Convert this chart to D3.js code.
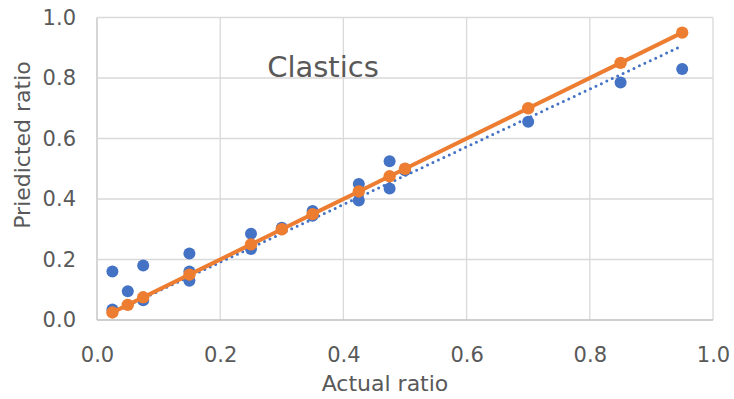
<!DOCTYPE html>
<html>
<head>
<meta charset="utf-8">
<script src="https://cdn.jsdelivr.net/npm/d3@7"></script>
<style>
    body { margin: 0; background: #fff; }
    svg text { font-family: "DejaVu Sans", Verdana, sans-serif; fill: #595959; }
</style>
</head>
<body>
<svg id="chart" width="734" height="399"></svg>
<script>
// actual vs predicted (blue markers)
const actualRatio = [0.025, 0.025, 0.05, 0.075, 0.075, 0.15, 0.15, 0.15, 0.25, 0.25, 0.3,
    0.35, 0.35, 0.425, 0.425, 0.475, 0.475, 0.5, 0.7, 0.85, 0.95];
const predictedRatio = [0.16, 0.035, 0.095, 0.18, 0.065, 0.22, 0.16, 0.13, 0.285, 0.235, 0.305,
    0.36, 0.345, 0.45, 0.395, 0.525, 0.435, 0.495, 0.655, 0.785, 0.83];

// 1:1 reference series (orange)
const lineRatio = [0.025, 0.05, 0.075, 0.15, 0.25, 0.3, 0.35, 0.425, 0.475, 0.5, 0.7, 0.85, 0.95];

const tickValues = [0, 0.2, 0.4, 0.6, 0.8, 1.0];
const chartTitle = "Clastics";
const xTitle = "Actual ratio";
const yTitle = "Priedicted ratio";

const svg = d3.select("#chart");

// plot area
const plotLeft = 97, plotRight = 713, plotTop = 17.5, plotBottom = 320;

const x = d3.scaleLinear().domain([0, 1]).range([plotLeft, plotRight]);
const y = d3.scaleLinear().domain([0, 1]).range([plotBottom, plotTop]);

// gridlines
svg.append("g")
    .selectAll("line.vgrid")
    .data(tickValues)
    .enter()
    .append("line")
    .attr("x1", (d) => x(d))
    .attr("x2", (d) => x(d))
    .attr("y1", y(0))
    .attr("y2", y(1))
    .style("stroke", (d) => (d === 0 ? "#bfbfbf" : "#d9d9d9"))
    .style("stroke-width", 1.3);

svg.append("g")
    .selectAll("line.hgrid")
    .data(tickValues)
    .enter()
    .append("line")
    .attr("x1", x(0))
    .attr("x2", x(1))
    .attr("y1", (d) => y(d))
    .attr("y2", (d) => y(d))
    .style("stroke", (d) => (d === 0 ? "#bfbfbf" : "#d9d9d9"))
    .style("stroke-width", 1.3);

// axes (labels only)
const xAxis = svg.append("g")
    .attr("transform", "translate(0," + plotBottom + ")")
    .call(d3.axisBottom(x).tickValues(tickValues).tickFormat(d3.format(".1f")).tickSize(0).tickPadding(27));
const yAxis = svg.append("g")
    .attr("transform", "translate(" + plotLeft + ",0)")
    .call(d3.axisLeft(y).tickValues(tickValues).tickFormat(d3.format(".1f")).tickSize(0).tickPadding(21));
[xAxis, yAxis].forEach((g) => {
    g.select(".domain").remove();
    g.selectAll("text")
        .style("font-size", "21px")
        .style("fill", "#595959")
        .style("font-family", "DejaVu Sans");
});

// blue markers
svg.append("g")
    .selectAll("circle")
    .data(actualRatio.map((v, i) => [v, predictedRatio[i]]))
    .enter()
    .append("circle")
    .attr("cx", (d) => x(d[0]))
    .attr("cy", (d) => y(d[1]))
    .attr("r", 6)
    .style("fill", "#4472c4");

// linear trendline through origin
const sxy = d3.sum(actualRatio, (v, i) => v * predictedRatio[i]);
const sxx = d3.sum(actualRatio, (v) => v * v);
const slope = sxy / sxx;
const xExtent = d3.extent(actualRatio);

svg.append("path")
    .datum(xExtent)
    .attr("d", d3.line().x((d) => x(d)).y((d) => y(slope * d)))
    .style("fill", "none")
    .style("stroke", "#4472c4")
    .style("stroke-width", 3)
    .style("stroke-linecap", "round")
    .style("stroke-dasharray", "0 6");

// orange line with markers
svg.append("path")
    .datum(lineRatio)
    .attr("d", d3.line().x((d) => x(d)).y((d) => y(d)))
    .style("fill", "none")
    .style("stroke", "#ed7d31")
    .style("stroke-width", 4)
    .style("stroke-linejoin", "round");

svg.append("g")
    .selectAll("circle")
    .data(lineRatio)
    .enter()
    .append("circle")
    .attr("cx", (d) => x(d))
    .attr("cy", (d) => y(d))
    .attr("r", 6.2)
    .style("fill", "#ed7d31");

// titles
svg.append("text")
    .attr("x", 323)
    .attr("y", 77)
    .attr("text-anchor", "middle")
    .style("font-size", "29px")
    .text(chartTitle);

svg.append("text")
    .attr("x", 385)
    .attr("y", 391)
    .attr("text-anchor", "middle")
    .style("font-size", "22px")
    .text(xTitle);

svg.append("text")
    .attr("text-anchor", "middle")
    .attr("transform", "translate(30,145)rotate(-90)")
    .style("font-size", "22px")
    .text(yTitle);
</script>
</body>
</html>
